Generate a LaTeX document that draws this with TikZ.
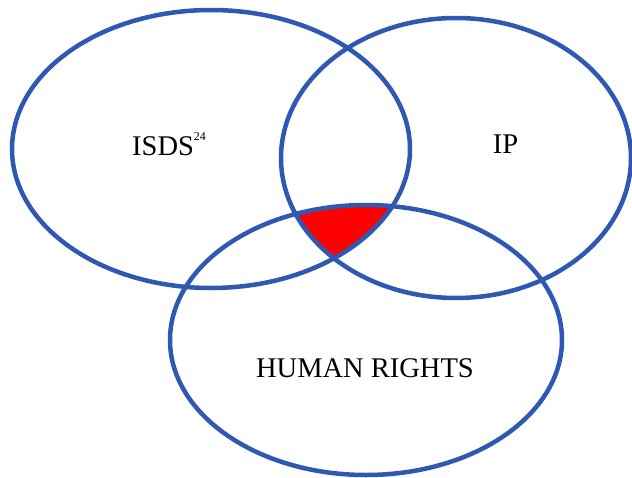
\documentclass[tikz,border=0pt]{standalone}
\usepackage{fontspec}
\setmainfont{Liberation Serif}
\definecolor{vennblue}{RGB}{46,88,178}
\tikzset{
    venn/.style={draw=vennblue, line width=4.5pt},
    settext/.style={font=\fontsize{28.5}{32}\selectfont, anchor=base, inner sep=0pt}
}

\begin{document}
\begin{tikzpicture}[x=1pt,y=-1pt]
    \useasboundingbox (0,0) rectangle (632,477);
    % Centres of the three sets
    \coordinate (isds) at (211,149);
    \coordinate (ip) at (456,158);
    \coordinate (hr) at (366,340);

    % Common part of all three sets
    \begin{scope}
        \clip (isds) ellipse [x radius=199pt, y radius=139pt];
        \clip (ip) ellipse [x radius=175pt, y radius=140pt];
        \fill[red] (hr) ellipse [x radius=196pt, y radius=135pt];
    \end{scope}

    % Outlines
    \draw[venn] (isds) ellipse [x radius=199pt, y radius=139pt];
    \draw[venn] (ip) ellipse [x radius=175pt, y radius=140pt];
    \draw[venn] (hr) ellipse [x radius=196pt, y radius=135pt];

    % Labels
    \node[settext, anchor=base west] (isdslabel) at (132,155)
        {ISDS{\fontsize{12}{13}\selectfont\raisebox{15pt}{24}}};
    \node[settext] (iplabel) at (505.5,153) {IP};
    \node[settext] (hrlabel) at (365,377) {HUMAN RIGHTS};
\end{tikzpicture}
\end{document}
